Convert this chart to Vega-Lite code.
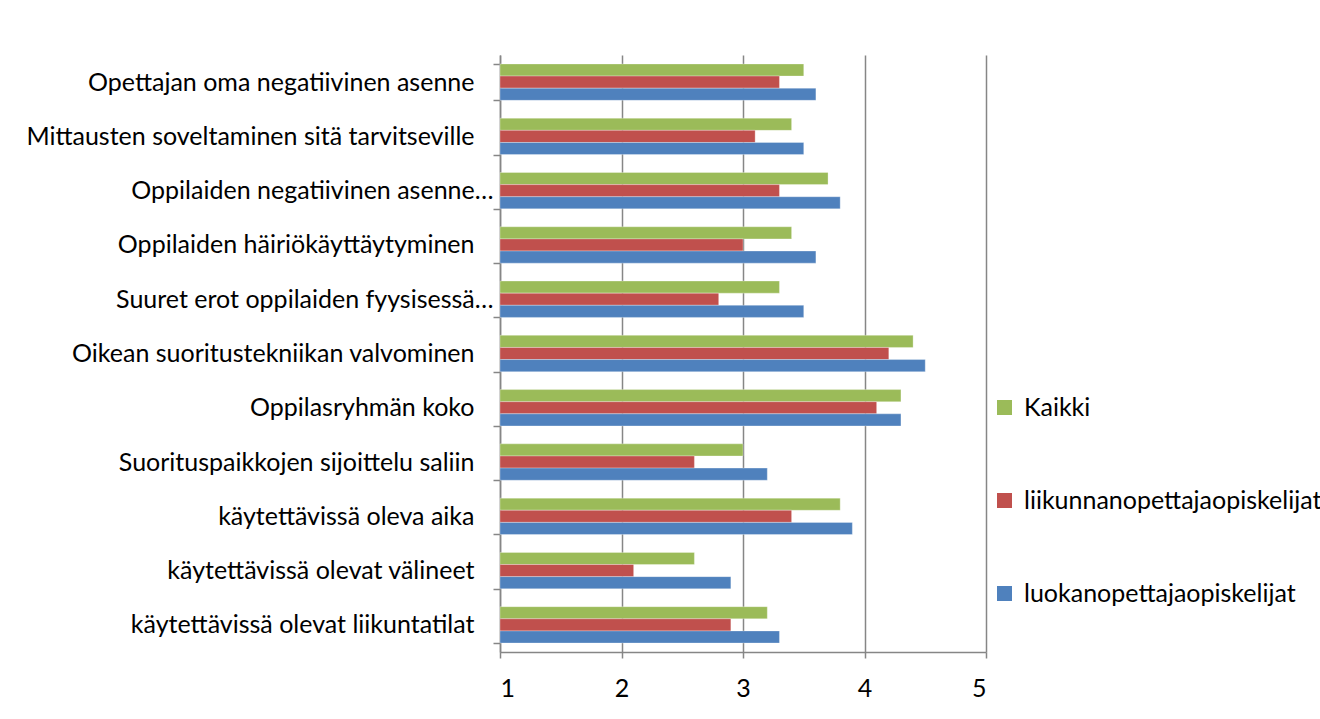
{
  "$schema": "https://vega.github.io/schema/vega-lite/v6.json",
  "width": 486,
  "height": 597,
  "autosize": {"type": "none"},
  "padding": {"left": 500, "top": 55, "right": 334, "bottom": 67},
  "background": "white",
  "config": {"view": {"stroke": null}, "font": "Lato"},
  "data": {
    "values": [
      {"kohde": "Opettajan oma negatiivinen asenne", "ryhma": "Kaikki", "arvo": 3.5},
      {"kohde": "Opettajan oma negatiivinen asenne", "ryhma": "liikunnanopettajaopiskelijat", "arvo": 3.3},
      {"kohde": "Opettajan oma negatiivinen asenne", "ryhma": "luokanopettajaopiskelijat", "arvo": 3.6},
      {"kohde": "Mittausten soveltaminen sitä tarvitseville", "ryhma": "Kaikki", "arvo": 3.4},
      {"kohde": "Mittausten soveltaminen sitä tarvitseville", "ryhma": "liikunnanopettajaopiskelijat", "arvo": 3.1},
      {"kohde": "Mittausten soveltaminen sitä tarvitseville", "ryhma": "luokanopettajaopiskelijat", "arvo": 3.5},
      {"kohde": "Oppilaiden negatiivinen asenne…", "ryhma": "Kaikki", "arvo": 3.7},
      {"kohde": "Oppilaiden negatiivinen asenne…", "ryhma": "liikunnanopettajaopiskelijat", "arvo": 3.3},
      {"kohde": "Oppilaiden negatiivinen asenne…", "ryhma": "luokanopettajaopiskelijat", "arvo": 3.8},
      {"kohde": "Oppilaiden häiriökäyttäytyminen", "ryhma": "Kaikki", "arvo": 3.4},
      {"kohde": "Oppilaiden häiriökäyttäytyminen", "ryhma": "liikunnanopettajaopiskelijat", "arvo": 3.0},
      {"kohde": "Oppilaiden häiriökäyttäytyminen", "ryhma": "luokanopettajaopiskelijat", "arvo": 3.6},
      {"kohde": "Suuret erot oppilaiden fyysisessä…", "ryhma": "Kaikki", "arvo": 3.3},
      {"kohde": "Suuret erot oppilaiden fyysisessä…", "ryhma": "liikunnanopettajaopiskelijat", "arvo": 2.8},
      {"kohde": "Suuret erot oppilaiden fyysisessä…", "ryhma": "luokanopettajaopiskelijat", "arvo": 3.5},
      {"kohde": "Oikean suoritustekniikan valvominen", "ryhma": "Kaikki", "arvo": 4.4},
      {"kohde": "Oikean suoritustekniikan valvominen", "ryhma": "liikunnanopettajaopiskelijat", "arvo": 4.2},
      {"kohde": "Oikean suoritustekniikan valvominen", "ryhma": "luokanopettajaopiskelijat", "arvo": 4.5},
      {"kohde": "Oppilasryhmän koko", "ryhma": "Kaikki", "arvo": 4.3},
      {"kohde": "Oppilasryhmän koko", "ryhma": "liikunnanopettajaopiskelijat", "arvo": 4.1},
      {"kohde": "Oppilasryhmän koko", "ryhma": "luokanopettajaopiskelijat", "arvo": 4.3},
      {"kohde": "Suorituspaikkojen sijoittelu saliin", "ryhma": "Kaikki", "arvo": 3.0},
      {"kohde": "Suorituspaikkojen sijoittelu saliin", "ryhma": "liikunnanopettajaopiskelijat", "arvo": 2.6},
      {"kohde": "Suorituspaikkojen sijoittelu saliin", "ryhma": "luokanopettajaopiskelijat", "arvo": 3.2},
      {"kohde": "käytettävissä oleva aika", "ryhma": "Kaikki", "arvo": 3.8},
      {"kohde": "käytettävissä oleva aika", "ryhma": "liikunnanopettajaopiskelijat", "arvo": 3.4},
      {"kohde": "käytettävissä oleva aika", "ryhma": "luokanopettajaopiskelijat", "arvo": 3.9},
      {"kohde": "käytettävissä olevat välineet", "ryhma": "Kaikki", "arvo": 2.6},
      {"kohde": "käytettävissä olevat välineet", "ryhma": "liikunnanopettajaopiskelijat", "arvo": 2.1},
      {"kohde": "käytettävissä olevat välineet", "ryhma": "luokanopettajaopiskelijat", "arvo": 2.9},
      {"kohde": "käytettävissä olevat liikuntatilat", "ryhma": "Kaikki", "arvo": 3.2},
      {"kohde": "käytettävissä olevat liikuntatilat", "ryhma": "liikunnanopettajaopiskelijat", "arvo": 2.9},
      {"kohde": "käytettävissä olevat liikuntatilat", "ryhma": "luokanopettajaopiskelijat", "arvo": 3.3}
    ]
  },
  "mark": {"type": "bar", "stroke": "white", "strokeOpacity": 0.5, "strokeWidth": 0.6},
  "encoding": {
    "y": {
      "field": "kohde",
      "type": "nominal",
      "sort": null,
      "scale": {"paddingInner": 0.33, "paddingOuter": 0.165},
      "axis": {
        "title": null,
        "tickBand": "extent",
        "labelFontSize": 25,
        "labelColor": "#000000",
        "labelPadding": {"condition": {"test": "indexof(datum.label, '…') >= 0", "value": 0}, "value": 19},
        "labelLimit": 600,
        "tickSize": 7,
        "tickColor": "#868686",
        "tickWidth": 1.5,
        "domainColor": "#868686",
        "domainWidth": 1.5
      }
    },
    "yOffset": {
      "field": "ryhma",
      "type": "nominal",
      "sort": ["Kaikki", "liikunnanopettajaopiskelijat", "luokanopettajaopiskelijat"],
      "scale": {"paddingInner": 0, "paddingOuter": 0}
    },
    "x": {
      "field": "arvo",
      "type": "quantitative",
      "scale": {"domain": [1, 5], "zero": false, "nice": false},
      "axis": {
        "title": null,
        "values": [1, 2, 3, 4, 5],
        "format": "d",
        "grid": true,
        "gridColor": "#868686",
        "gridWidth": 1.5,
        "tickSize": 6,
        "tickColor": "#868686",
        "tickWidth": 1.5,
        "domainColor": "#868686",
        "domainWidth": 1.5,
        "labelFontSize": 25,
        "labelColor": "#000000",
        "labelPadding": 18
      }
    },
    "x2": {"datum": 1},
    "color": {
      "field": "ryhma",
      "type": "nominal",
      "scale": {
        "domain": ["Kaikki", "liikunnanopettajaopiskelijat", "luokanopettajaopiskelijat"],
        "range": ["#9BBB59", "#C0504D", "#4F81BD"]
      },
      "legend": {
        "title": null,
        "orient": "none",
        "legendX": 492,
        "legendY": 340,
        "symbolType": "square",
        "symbolSize": 225,
        "symbolStrokeWidth": 0,
        "labelFontSize": 25,
        "labelColor": "#000000",
        "labelOffset": 7,
        "labelLimit": 400,
        "rowPadding": 67
      }
    }
  }
}
